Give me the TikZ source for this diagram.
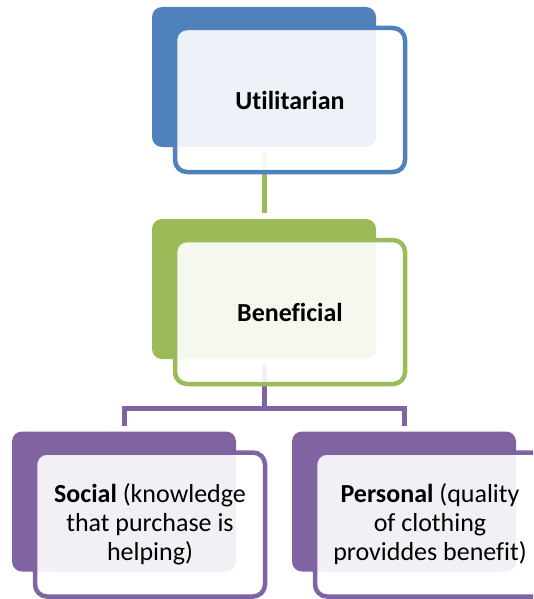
\documentclass[tikz,border=0pt]{standalone}
\usepackage{fontspec}
\setmainfont[Ligatures=CommonOff]{Carlito}
\usepackage{tikz}

\definecolor{topblue}{HTML}{4F81BD}
\definecolor{midgreen}{HTML}{9BBB59}
\definecolor{lowpurple}{HTML}{8064A2}

\tikzset{
	backbox/.style={rectangle,rounded corners=10pt,minimum width=224pt,minimum height=140pt,inner sep=0pt,outer sep=0pt,fill=#1},
	frontbox/.style={rectangle,rounded corners=12pt,minimum width=230pt,minimum height=144pt,inner sep=0pt,outer sep=0pt,draw=#1,line width=4.5pt,fill=white,fill opacity=0.9,text opacity=1,align=center,font=\fontsize{26}{29}\selectfont},
	link/.style={draw=#1,line width=5pt,shorten <=6pt,shorten >=6pt}
}

\begin{document}
\begin{tikzpicture}[x=1pt,y=-1pt]

	\def\dx{26}
	\def\dy{23}

	\useasboundingbox (0,0) rectangle (533,599);
	\clip (0,0) rectangle (533,599);

	% back shapes
	\node[backbox=topblue] (util) at (264,77) {};
	\node[backbox=midgreen] (bene) at (264,289) {};
	\node[backbox=lowpurple] (soc) at (124,501.5) {};
	\node[backbox=lowpurple] (pers) at (404,501.5) {};

	% connectors
	\coordinate (fork) at (264,408.5);
	\path[link=midgreen] (util.south) edge (bene.north);
	\draw[link=lowpurple,shorten >=0pt] (bene.south) -- (fork);
	\draw[link=lowpurple,shorten <=0pt] (fork) -| (soc.north);
	\draw[link=lowpurple,shorten <=0pt] (fork) -| (pers.north);

	% front shapes with text
	\node[frontbox=topblue] (utilf) at (264+\dx,77+\dy) {\textbf{Utilitarian}};
	\node[frontbox=midgreen] (benef) at (264+\dx,289+\dy) {\textbf{Beneficial}};
	\node[frontbox=lowpurple] (socf) at (124+\dx,501.5+\dy) {\textbf{Social} (knowledge\\that purchase is\\helping)};
	\node[frontbox=lowpurple] (persf) at (404+\dx,501.5+\dy) {\textbf{Personal} (quality\\of clothing\\providdes benefit)};

\end{tikzpicture}
\end{document}
